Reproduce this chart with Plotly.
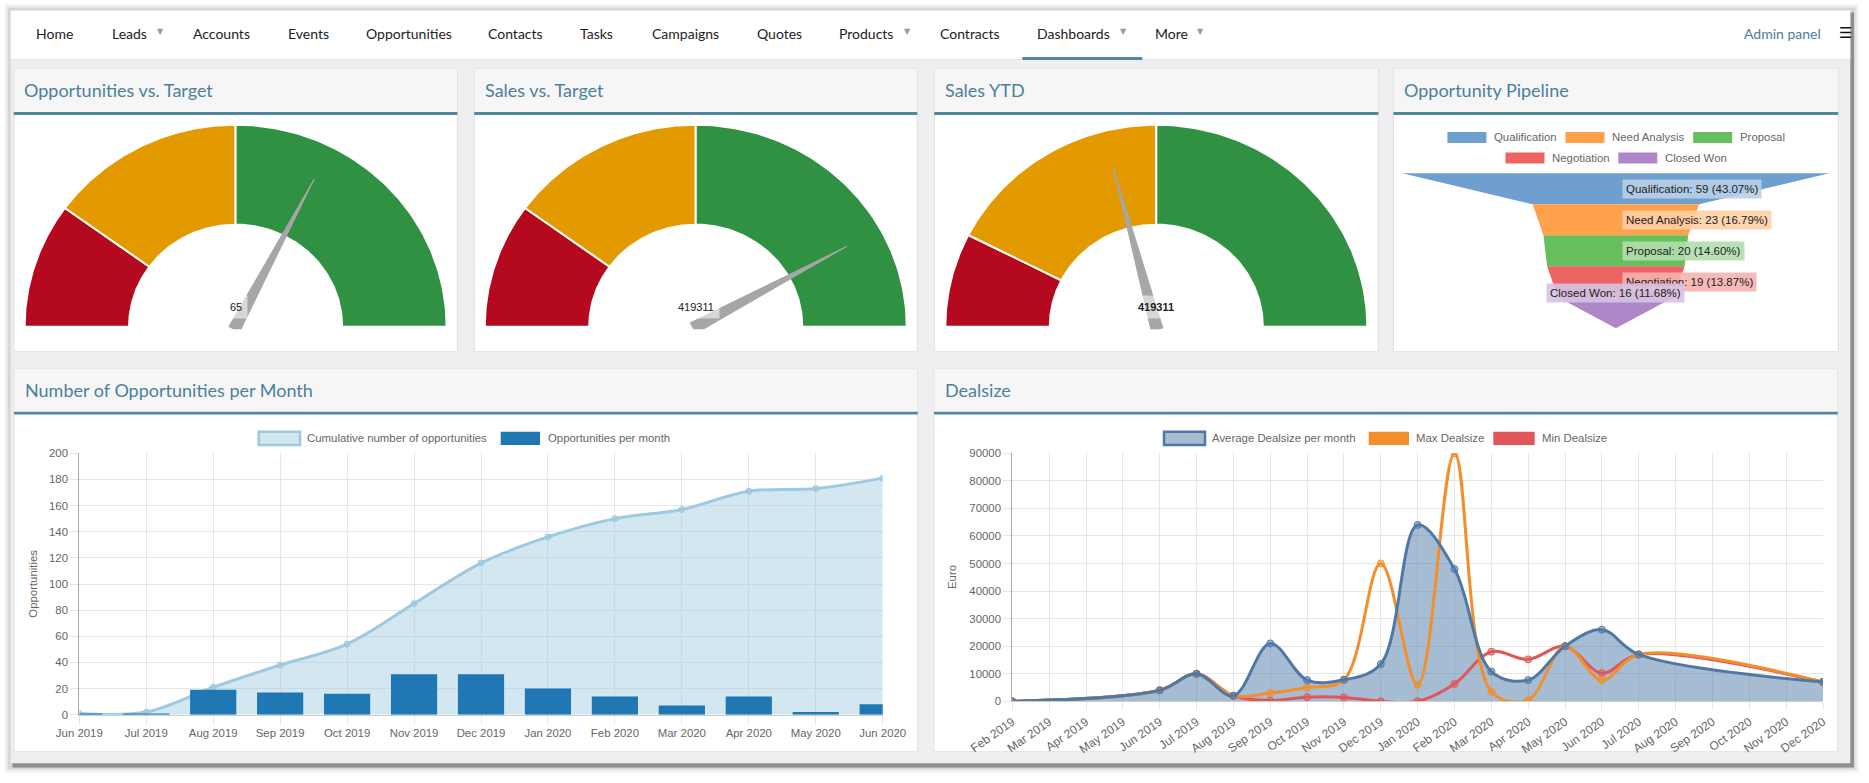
import numpy as np
import plotly.graph_objects as go

# ---------------- data ----------------
nav_items = ["Home", "Leads", "Accounts", "Events", "Opportunities", "Contacts", "Tasks",
             "Campaigns", "Quotes", "Products", "Contracts", "Dashboards", "More"]
nav_dropdowns = ["Leads", "Products", "Dashboards", "More"]

gauge_titles = ["Opportunities vs. Target", "Sales vs. Target", "Sales YTD"]
gauge_values = [65, 419311, 419311]
gauge_limits = [[0, 20, 50, 100],
                [0, 100000, 250000, 500000],
                [0, 150000, 500000, 1000000]]

funnel_stages = ["Qualification", "Need Analysis", "Proposal", "Negotiation", "Closed Won"]
funnel_counts = [59, 23, 20, 19, 16]

opp_months = ["Jun 2019", "Jul 2019", "Aug 2019", "Sep 2019", "Oct 2019", "Nov 2019", "Dec 2019",
              "Jan 2020", "Feb 2020", "Mar 2020", "Apr 2020", "May 2020", "Jun 2020"]
opps_per_month = [1, 1, 19, 17, 16, 31, 31, 20, 14, 7, 14, 2, 8]

deal_months = ["Feb 2019", "Mar 2019", "Apr 2019", "May 2019", "Jun 2019", "Jul 2019", "Aug 2019",
               "Sep 2019", "Oct 2019", "Nov 2019", "Dec 2019", "Jan 2020", "Feb 2020", "Mar 2020",
               "Apr 2020", "May 2020", "Jun 2020", "Jul 2020", "Aug 2020", "Sep 2020", "Oct 2020",
               "Nov 2020", "Dec 2020"]
avg_dealsize = [0, None, None, None, 4000, 10000, 2000, 21000, 7700, 7800, 13500, 64000, 48000,
                10800, 7700, 20000, 26000, 17000, None, None, None, None, 7000]
max_dealsize = [0, None, None, None, 4000, 10000, 2000, 3000, 5000, 7800, 50000, 6000, 90000,
                3500, 500, 20000, 7700, 17000, None, None, None, None, 7000]
min_dealsize = [0, None, None, None, 4000, 10000, 2000, 250, 1500, 1400, 0, 0, 6300,
                18000, 15200, 20000, 10200, 17000, None, None, None, None, 7000]

# ---------------- look ----------------
W, H = 1869, 783
UI_FONT = "Lato, Nunito, Open Sans, sans-serif"
CHART_FONT = "Arial, Liberation Sans, Helvetica, sans-serif"
CHART_SIZE = 11.4
GAUGE_COLORS = ["#b5091f", "#e39a00", "#319142"]
FUNNEL_COLORS = ["#6f9fcf", "#ffa04b", "#66be5c", "#ec6562", "#ad87c7"]
TITLE_COLOR = "#4b809c"
BAR_COLOR = "#5089a1"
GRID = "#e6e6e6"


def fx(x):
    return x / W


def fy(y):
    return 1 - y / H


def tint(hex_color, amount=0.5, alpha=0.9):
    r, g, b = (int(hex_color[i:i + 2], 16) for i in (1, 3, 5))
    mix = lambda c: int(c + (255 - c) * amount)
    return f"rgba({mix(r)},{mix(g)},{mix(b)},{alpha})"


shapes, notes = [], []


def box(x0, y0, x1, y1, fill, line=None, width=0):
    shapes.append(dict(type="rect", xref="paper", yref="paper", layer="below",
                       x0=fx(x0), x1=fx(x1), y0=fy(y1), y1=fy(y0),
                       fillcolor=fill, line=dict(color=line or fill, width=width)))


def label(x, y, s, size=CHART_SIZE, color="#666", font=CHART_FONT, anchor="center", **kw):
    notes.append(dict(xref="paper", yref="paper", x=fx(x), y=fy(y), text=s, showarrow=False,
                      xanchor=anchor, yanchor="middle",
                      font=dict(size=size, color=color, family=font), **kw))


# window frame + shadow
for pad, alpha in [(7, 0.03), (5, 0.05), (3, 0.08)]:
    box(10.8 - pad, 10.7 - pad, 1850.3 + pad + 2, 763.3 + pad + 3, f"rgba(0,0,0,{alpha})")
box(12.5, 12.5, 1854, 767.5, "#8e8e8e")
box(10.8, 10.7, 1850.3, 763.3, "#efeff1")

# navbar
box(10.8, 10.7, 1850.3, 59.3, "white")
box(10.8, 59.3, 1850.3, 60.3, "#e2e2e4")
NAV_X = [54.6, 129, 221, 308, 408.5, 515, 596.5, 685.9, 779.7, 866.4, 970, 1073.3, 1171]
CARET_X = {"Leads": 160, "Products": 907.7, "Dashboards": 1123.6, "More": 1200.4}
for name, x in zip(nav_items, NAV_X):
    label(x, 33.3, name, size=14, color="#222", font=UI_FONT)
    if name in nav_dropdowns:
        label(CARET_X[name], 31, "▼", size=8, color="#9a9a9a", font="DejaVu Sans")
box(1022.3, 57, 1142.2, 60, BAR_COLOR)
label(1782, 33.3, "Admin panel", size=14, color=TITLE_COLOR, font=UI_FONT)
label(1845, 32.5, "☰", size=15, color="#111", font="DejaVu Sans")

# panels
TOP_X = [(13.8, 457.4), (474.2, 917.3), (934.2, 1378.4), (1393.4, 1838.3)]
TOP_Y = (68.3, 112, 115, 351.7)
BOT_X = [(14, 917.7), (934, 1837.7)]
BOT_Y = (368.3, 411.7, 414.5, 751.7)


def panel(x0, x1, ys, title):
    top, l0, l1, bot = ys
    box(x0, top, x1, bot, "white", "#e0e0e2", 1)
    box(x0 + 0.5, top + 0.5, x1 - 0.5, l0, "#f6f6f7")
    box(x0, l0, x1, l1, BAR_COLOR)
    label(x0 + 8.5, (top + l0) / 2, title, size=18, color=TITLE_COLOR, font=UI_FONT, anchor="left")


for (x0, x1), t in zip(TOP_X, gauge_titles + ["Opportunity Pipeline"]):
    panel(x0, x1, TOP_Y, t)
panel(*BOT_X[0], BOT_Y, "Number of Opportunities per Month")
panel(*BOT_X[1], BOT_Y, "Dealsize")

fig = go.Figure()
layout_axes = {}
hidden = dict(visible=False, fixedrange=True, showgrid=False, zeroline=False, automargin=False)

# ---------------- gauges ----------------
RX, RY, HOLE, NEEDLE = 211, 202, 0.505, 0.82
GAUGE_Y = 326.7
GAUGE_CLIP = GAUGE_Y + 2.5   # needle base is cut flat just under the arc
for i, (value, lim) in enumerate(zip(gauge_values, gauge_limits)):
    x0, x1 = TOP_X[i]
    xa, ya = f"x{3 + i}", f"y{4 + i}"
    layout_axes[f"xaxis{3 + i}"] = dict(domain=[fx(x0), fx(x1)], range=[x0, x1], anchor=ya, **hidden)
    layout_axes[f"yaxis{4 + i}"] = dict(domain=[fy(GAUGE_CLIP), fy(TOP_Y[2])],
                                        range=[GAUGE_CLIP, TOP_Y[2]], anchor=xa, **hidden)
    cx = (x0 + x1) / 2
    span = lim[-1] - lim[0]
    for k in range(3):
        t = np.pi * (1 - np.linspace((lim[k] - lim[0]) / span, (lim[k + 1] - lim[0]) / span, 80))
        xs = np.concatenate([cx + RX * np.cos(t), cx + HOLE * RX * np.cos(t[::-1])])
        ys = np.concatenate([GAUGE_Y - RY * np.sin(t), GAUGE_Y - HOLE * RY * np.sin(t[::-1])])
        fig.add_trace(go.Scatter(x=np.append(xs, xs[0]), y=np.append(ys, ys[0]), mode="lines",
                                 fill="toself", fillcolor=GAUGE_COLORS[k],
                                 line=dict(color="white", width=2), hoverinfo="skip",
                                 showlegend=False, xaxis=xa, yaxis=ya))
    th = np.pi * (1 - (value - lim[0]) / span)
    tip = np.array([cx + NEEDLE * RX * np.cos(th), GAUGE_Y - NEEDLE * RY * np.sin(th)])
    c = np.array([cx, GAUGE_Y])
    v = (tip - c) / np.linalg.norm(tip - c)
    p = np.array([-v[1], v[0]])
    pts = [c + 6 * p - 3 * v, tip, c - 6 * p - 3 * v, c + 6 * p - 3 * v]
    fig.add_trace(go.Scatter(x=[q[0] for q in pts], y=[q[1] for q in pts], mode="lines",
                             fill="toself", fillcolor="#a6a6a6", line=dict(color="#a6a6a6", width=1),
                             hoverinfo="skip", showlegend=False, xaxis=xa, yaxis=ya))
    txt = f"<b>{value}</b>" if i == 2 else str(value)
    label(cx, GAUGE_Y - 20, txt, size=11, color="#222", bgcolor="rgba(255,255,255,0.55)", borderpad=5)

# ---------------- funnel ----------------
fx0, fx1 = TOP_X[3]
layout_axes["xaxis6"] = dict(domain=[fx(fx0), fx(fx1)], range=[fx0, fx1], anchor="y7", **hidden)
layout_axes["yaxis7"] = dict(domain=[fy(TOP_Y[3]), fy(TOP_Y[2])], range=[TOP_Y[3], TOP_Y[2]],
                             anchor="x6", **hidden)
FUNNEL_TOP, FUNNEL_STEP, FUNNEL_WIDTH = 173.3, 31, 427
fcx = (fx0 + fx1) / 2
scale = FUNNEL_WIDTH / max(funnel_counts)
widths = [n * scale for n in funnel_counts] + [0]
total = sum(funnel_counts)
for k, (stage, n) in enumerate(zip(funnel_stages, funnel_counts)):
    top = FUNNEL_TOP + k * FUNNEL_STEP
    bot = top + FUNNEL_STEP
    w0, w1 = widths[k] / 2, widths[k + 1] / 2
    fig.add_trace(go.Scatter(x=[fcx - w0, fcx + w0, fcx + w1, fcx - w1, fcx - w0],
                             y=[top, top, bot, bot, top], mode="lines", fill="toself",
                             fillcolor=FUNNEL_COLORS[k], line=dict(width=0, color=FUNNEL_COLORS[k]),
                             hoverinfo="skip", showlegend=False, xaxis="x6", yaxis="y7"))
for k, (stage, n) in enumerate(zip(funnel_stages, funnel_counts)):
    top = FUNNEL_TOP + k * FUNNEL_STEP
    txt = f"{stage}: {n} ({n / total * 100:.2f}%)"
    if k == len(funnel_counts) - 1:
        label(fcx, top - 4, txt, size=11.5, color="#222", bgcolor=tint(FUNNEL_COLORS[k]), borderpad=3)
    else:
        label(fcx + 6.5, top + FUNNEL_STEP / 2, txt, size=11.5, color="#222", anchor="left",
              bgcolor=tint(FUNNEL_COLORS[k]), borderpad=3)

FUNNEL_LEGEND = [(1447.4, 137.5), (1565.5, 137.5), (1693.2, 137.5), (1505.5, 158), (1618.3, 158)]
for (lx, ly), stage, col in zip(FUNNEL_LEGEND, funnel_stages, FUNNEL_COLORS):
    box(lx, ly - 5.5, lx + 39, ly + 5.5, col)
    label(lx + 44.5, ly, stage, anchor="left")

# ---------------- opportunities per month ----------------
axis_common = dict(showgrid=True, gridcolor=GRID, gridwidth=1, ticks="outside", ticklen=8,
                   tickcolor=GRID, tickfont=dict(size=CHART_SIZE, color="#666", family=CHART_FONT),
                   zeroline=False, fixedrange=True, automargin=False)
layout_axes["xaxis"] = dict(domain=[fx(79.3), fx(882.7)], anchor="y", type="category",
                            range=[0, len(opp_months) - 1], showline=True, linecolor="#cdcdcd",
                            **axis_common)
layout_axes["yaxis"] = dict(domain=[fy(714.7), fy(453.3)], anchor="x", range=[0, 200], dtick=20,
                            showline=True, linecolor="#a8a8a8", **axis_common)
layout_axes["yaxis2"] = dict(overlaying="y", anchor="x", range=[0, 200], **hidden)

cumulative = np.cumsum(opps_per_month)
fig.add_trace(go.Scatter(x=opp_months, y=cumulative, mode="lines+markers",
                         line=dict(color="#9ecae1", width=3, shape="spline"),
                         marker=dict(size=6, color="rgba(158,202,225,0.6)",
                                     line=dict(color="#9ecae1", width=1)),
                         fill="tozeroy", fillcolor="rgba(158,202,225,0.45)",
                         hoverinfo="skip", showlegend=False, xaxis="x", yaxis="y"))
fig.add_trace(go.Bar(x=opp_months, y=opps_per_month, marker=dict(color="#1f77b4", line=dict(width=0)),
                     hoverinfo="skip", showlegend=False, xaxis="x", yaxis="y2"))

box(258.7, 431.7, 300, 445, "rgba(158,202,225,0.45)", "#9ecae1", 2.5)
label(305, 438.3, "Cumulative number of opportunities", anchor="left")
box(500.7, 431.7, 540, 445, "#1f77b4")
label(546, 438.3, "Opportunities per month", anchor="left")
label(32.7, 584, "Opportunities", textangle=-90)

# ---------------- dealsize ----------------
deal_x = dict(axis_common, tickfont=dict(size=12, color="#666", family=CHART_FONT))
layout_axes["xaxis2"] = dict(domain=[fx(1012.3), fx(1823)], anchor="y3", type="category",
                             range=[0, len(deal_months) - 1], tickangle=-35, showline=True,
                             linecolor="#cdcdcd", **deal_x)
layout_axes["yaxis3"] = dict(domain=[fy(701.3), fy(453.3)], anchor="x2", range=[0, 90000],
                             dtick=10000, tickformat="d", showline=True, linecolor="#a8a8a8",
                             **axis_common)

fig.add_trace(go.Scatter(x=deal_months, y=avg_dealsize, mode="lines", connectgaps=True,
                         line=dict(color="rgba(78,121,167,0)", width=0, shape="spline"),
                         fill="tozeroy", fillcolor="rgba(78,121,167,0.5)",
                         hoverinfo="skip", showlegend=False, xaxis="x2", yaxis="y3"))
for series, col, rgba in [(min_dealsize, "#e15759", "rgba(225,87,89,0.5)"),
                          (max_dealsize, "#f28e2b", "rgba(242,142,43,0.5)"),
                          (avg_dealsize, "#4e79a7", "rgba(78,121,167,0.5)")]:
    fig.add_trace(go.Scatter(x=deal_months, y=series, mode="lines+markers", connectgaps=True,
                             line=dict(color=col, width=3, shape="spline"),
                             marker=dict(size=7, color=rgba, line=dict(color=col, width=1)),
                             hoverinfo="skip", showlegend=False, xaxis="x2", yaxis="y3"))

box(1164, 431.7, 1205, 445, "rgba(78,121,167,0.5)", "#4e79a7", 2.5)
label(1210, 438.3, "Average Dealsize per month", anchor="left")
box(1368.7, 431.7, 1409, 445, "#f28e2b")
label(1414, 438.3, "Max Dealsize", anchor="left")
box(1493.3, 431.7, 1534.7, 445, "#e15759")
label(1539.7, 438.3, "Min Dealsize", anchor="left")
label(952.7, 577.3, "Euro", textangle=-90)

fig.update_layout(width=W, height=H, autosize=False,
                  margin=dict(l=0, r=0, t=0, b=0, pad=0, autoexpand=False),
                  paper_bgcolor="white", plot_bgcolor="rgba(0,0,0,0)", bargap=0.31,
                  shapes=shapes, annotations=notes, showlegend=False, **layout_axes)

fig.write_html("out.html", config={"displayModeBar": False, "staticPlot": True},
               post_script="document.body.style.margin='0';document.body.style.overflow='hidden';")
